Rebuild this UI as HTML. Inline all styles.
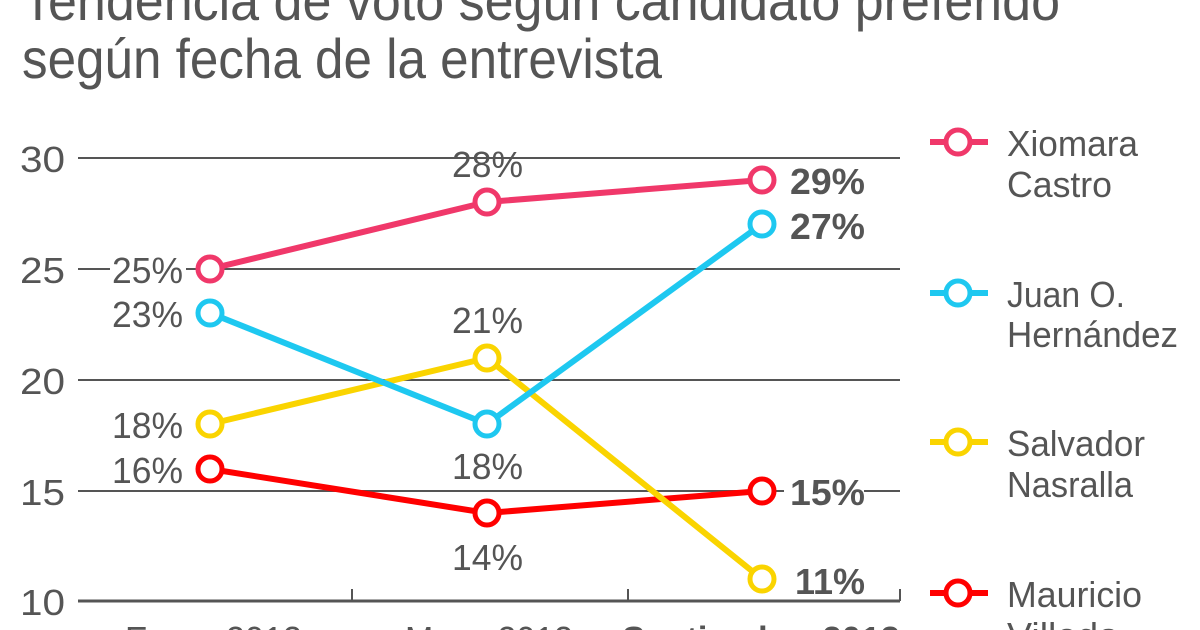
<!DOCTYPE html>
<html><head><meta charset="utf-8"><style>
html,body{margin:0;padding:0;background:#fff;width:1200px;height:630px;overflow:hidden}
svg{display:block}
text{font-family:"Liberation Sans",sans-serif;fill:#555}
</style></head><body>
<svg width="1200" height="630" viewBox="0 0 1200 630">
<text x="22" y="20" font-size="56" textLength="1038" lengthAdjust="spacingAndGlyphs">Tendencia de voto según candidato preferido</text>
<text x="22" y="78" font-size="56" textLength="640" lengthAdjust="spacingAndGlyphs">según fecha de la entrevista</text>
<g stroke="#555" stroke-width="2">
<line x1="78" y1="158" x2="900" y2="158"/>
<line x1="78" y1="269" x2="900" y2="269"/>
<line x1="78" y1="380" x2="900" y2="380"/>
<line x1="78" y1="491" x2="900" y2="491"/>
<line x1="78" y1="601" x2="900" y2="601" stroke-width="3"/>
<line x1="352" y1="589" x2="352" y2="601"/>
<line x1="628" y1="589" x2="628" y2="601"/>
<line x1="900" y1="589" x2="900" y2="601"/>
</g>
<g font-size="36" lengthAdjust="spacingAndGlyphs">
<text x="20" y="172" textLength="45" lengthAdjust="spacingAndGlyphs">30</text>
<text x="20" y="283" textLength="45" lengthAdjust="spacingAndGlyphs">25</text>
<text x="20" y="394" textLength="45" lengthAdjust="spacingAndGlyphs">20</text>
<text x="20" y="505" textLength="45" lengthAdjust="spacingAndGlyphs">15</text>
<text x="20" y="615" textLength="45" lengthAdjust="spacingAndGlyphs">10</text>
<text x="125" y="652" textLength="177" lengthAdjust="spacingAndGlyphs">Enero 2013</text>
<text x="405" y="652" textLength="168" lengthAdjust="spacingAndGlyphs">Mayo 2013</text>
<text x="622" y="652" textLength="278" lengthAdjust="spacingAndGlyphs" font-weight="bold">Septiembre 2013</text>
</g>
<g fill="none" stroke-width="6" stroke-linejoin="round">
<polyline points="210,469 487,513 762,491" stroke="#f00"/>
<polyline points="210,424 487,358 762,579" stroke="#fad400"/>
<polyline points="210,313 487,424 762,224" stroke="#1ec8f0"/>
<polyline points="210,269 487,202 762,180" stroke="#f0386a"/>
</g>
<g fill="#fff" stroke-width="5">
<g stroke="#f00"><circle cx="210" cy="469" r="12"/><circle cx="487" cy="513" r="12"/><circle cx="762" cy="491" r="12"/></g>
<g stroke="#fad400"><circle cx="210" cy="424" r="12"/><circle cx="487" cy="358" r="12"/><circle cx="762" cy="579" r="12"/></g>
<g stroke="#1ec8f0"><circle cx="210" cy="313" r="12"/><circle cx="487" cy="424" r="12"/><circle cx="762" cy="224" r="12"/></g>
<g stroke="#f0386a"><circle cx="210" cy="269" r="12"/><circle cx="487" cy="202" r="12"/><circle cx="762" cy="180" r="12"/></g>
</g>
<rect x="110" y="252" width="76" height="34" fill="#fff"/>
<rect x="784" y="474" width="80" height="34" fill="#fff"/>
<g font-size="36">
<text x="112" y="283" textLength="71" lengthAdjust="spacingAndGlyphs">25%</text>
<text x="112" y="327" textLength="71" lengthAdjust="spacingAndGlyphs">23%</text>
<text x="112" y="438" textLength="71" lengthAdjust="spacingAndGlyphs">18%</text>
<text x="112" y="483" textLength="71" lengthAdjust="spacingAndGlyphs">16%</text>
<text x="452" y="177" textLength="71" lengthAdjust="spacingAndGlyphs">28%</text>
<text x="452" y="333" textLength="71" lengthAdjust="spacingAndGlyphs">21%</text>
<text x="452" y="479" textLength="71" lengthAdjust="spacingAndGlyphs">18%</text>
<text x="452" y="570" textLength="71" lengthAdjust="spacingAndGlyphs">14%</text>
<text x="790" y="194" font-weight="bold" fill="#444" textLength="75" lengthAdjust="spacingAndGlyphs">29%</text>
<text x="790" y="239" font-weight="bold" fill="#444" textLength="75" lengthAdjust="spacingAndGlyphs">27%</text>
<text x="790" y="505" font-weight="bold" fill="#444" textLength="75" lengthAdjust="spacingAndGlyphs">15%</text>
<text x="795" y="594" font-weight="bold" fill="#444" textLength="70" lengthAdjust="spacingAndGlyphs">11%</text>
</g>
<g stroke-width="6" fill="#fff">
<g stroke="#f0386a"><line x1="930" y1="142" x2="988" y2="142"/><circle cx="958" cy="142" r="12" stroke-width="5"/></g>
<g stroke="#1ec8f0"><line x1="930" y1="293" x2="988" y2="293"/><circle cx="958" cy="293" r="12" stroke-width="5"/></g>
<g stroke="#fad400"><line x1="930" y1="442" x2="988" y2="442"/><circle cx="958" cy="442" r="12" stroke-width="5"/></g>
<g stroke="#f00"><line x1="930" y1="593" x2="988" y2="593"/><circle cx="958" cy="593" r="12" stroke-width="5"/></g>
</g>
<g font-size="36">
<text x="1007" y="156" textLength="131" lengthAdjust="spacingAndGlyphs">Xiomara</text>
<text x="1007" y="197" textLength="105" lengthAdjust="spacingAndGlyphs">Castro</text>
<text x="1007" y="307" textLength="118" lengthAdjust="spacingAndGlyphs">Juan O.</text>
<text x="1007" y="347" textLength="171" lengthAdjust="spacingAndGlyphs">Hernández</text>
<text x="1007" y="456" textLength="138" lengthAdjust="spacingAndGlyphs">Salvador</text>
<text x="1007" y="497" textLength="126" lengthAdjust="spacingAndGlyphs">Nasralla</text>
<text x="1007" y="607" textLength="135" lengthAdjust="spacingAndGlyphs">Mauricio</text>
<text x="1007" y="648" textLength="112" lengthAdjust="spacingAndGlyphs">Villeda</text>
</g>
</svg>
</body></html>
